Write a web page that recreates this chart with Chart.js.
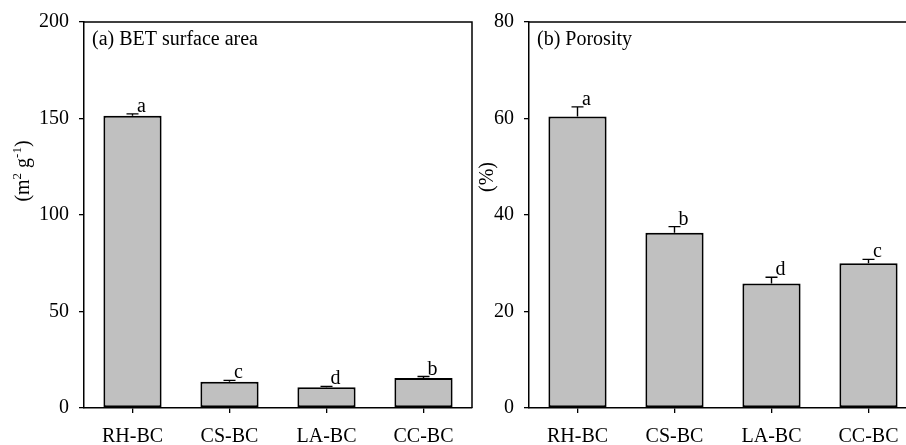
<!DOCTYPE html>
<html>
<head>
<meta charset="utf-8">
<script src="https://cdn.jsdelivr.net/npm/chart.js@4.4.1/dist/chart.umd.min.js"></script>
<style>
  html, body { margin: 0; padding: 0; background: #fff; overflow: hidden; width: 906px; height: 445px; }
  canvas { position: absolute; left: 0; top: 0; }
</style>
</head>
<body>
<canvas id="c1" width="1000" height="445"></canvas>
<canvas id="c2" width="1000" height="445"></canvas>
<script>
// ---- data ----
const categories = ['RH-BC', 'CS-BC', 'LA-BC', 'CC-BC'];
const betValues = [151.4, 13.6, 10.7, 15.6];
const betErrors = [1.0, 0.7, 0.5, 0.7];
const betLetters = ['a', 'c', 'd', 'b'];
const porosityValues = [60.4, 36.3, 25.8, 30.0];
const porosityErrors = [2.0, 1.3, 1.3, 0.8];
const porosityLetters = ['a', 'b', 'd', 'c'];
const betAxisMax = 200, betStep = 50;
const porosityAxisMax = 80, porosityStep = 20;
const betTitle = '(a) BET surface area';
const porosityTitle = '(b) Porosity';

// ---- styles ----
const FONT = "'Liberation Serif', 'Times New Roman', serif";
const BAR_FILL = '#c0c0c0';
const INK = '#000';

function panelPlugin(errors, letters, title, ylabelParts, labelOffset, labelCenterY) {
  return {
    id: 'panel',
    afterDatasetsDraw(chart) {
      const ctx = chart.ctx;
      const meta = chart.getDatasetMeta(0);
      const y = chart.scales.y;
      const vals = chart.data.datasets[0].data;
      ctx.save();
      ctx.strokeStyle = INK;
      ctx.lineWidth = 1.4;
      meta.data.forEach((bar, i) => {
        const x = bar.x;
        const y0 = y.getPixelForValue(vals[i]);
        const y1 = y.getPixelForValue(vals[i] + errors[i]);
        ctx.beginPath();
        ctx.moveTo(x, y0);
        ctx.lineTo(x, y1);
        ctx.moveTo(x - 6, y1);
        ctx.lineTo(x + 6, y1);
        ctx.stroke();
        ctx.fillStyle = INK;
        ctx.font = '20px ' + FONT;
        ctx.textAlign = 'center';
        ctx.textBaseline = 'alphabetic';
        ctx.fillText(letters[i], x + 9, y1 - 2);
      });
      ctx.restore();
    },
    afterDraw(chart) {
      const ctx = chart.ctx;
      const a = chart.chartArea;
      ctx.save();
      ctx.strokeStyle = INK;
      ctx.lineWidth = 1.5;
      ctx.beginPath();
      ctx.moveTo(a.left, a.top);
      ctx.lineTo(a.right, a.top);
      ctx.lineTo(a.right, a.bottom);
      ctx.stroke();
      // panel title
      ctx.fillStyle = INK;
      ctx.font = '20px ' + FONT;
      ctx.textAlign = 'left';
      ctx.textBaseline = 'alphabetic';
      ctx.fillText(title, a.left + 8, a.top + 23);
      // rotated y-axis label (with superscripts)
      ctx.translate(a.left - labelOffset, labelCenterY);
      ctx.rotate(-Math.PI / 2);
      let total = 0;
      ylabelParts.forEach(p => {
        ctx.font = (p.sup ? '13px ' : '20px ') + FONT;
        total += ctx.measureText(p.t).width;
      });
      let px = -total / 2;
      ylabelParts.forEach(p => {
        ctx.font = (p.sup ? '13px ' : '20px ') + FONT;
        ctx.fillText(p.t, px, p.sup ? -8 : 0);
        px += ctx.measureText(p.t).width;
      });
      ctx.restore();
    }
  };
}

function makeChart(id, values, errors, letters, max, step, title, ylabelParts, labelOffset, labelCenterY, padLeft, padRight) {
  return new Chart(document.getElementById(id), {
    type: 'bar',
    data: {
      labels: categories,
      datasets: [{
        data: values,
        backgroundColor: BAR_FILL,
        borderColor: INK,
        borderWidth: 2,
        borderSkipped: false,
        barPercentage: 0.6,
        categoryPercentage: 1.0
      }]
    },
    options: {
      responsive: false,
      animation: false,
      devicePixelRatio: 1,
      layout: { padding: { left: padLeft, right: padRight, top: 20, bottom: 0 } },
      plugins: { legend: { display: false }, tooltip: { enabled: false } },
      scales: {
        x: {
          type: 'category',
          offset: true,
          grid: { display: true, drawOnChartArea: false, drawTicks: true, tickLength: 5, offset: false, color: INK, lineWidth: 1.3 },
          border: { display: true, color: INK, width: 1.5 },
          ticks: { color: INK, font: { family: FONT, size: 20 }, padding: 12, maxRotation: 0 },
          afterFit(s) { s.height = 37; }
        },
        y: {
          min: 0, max: max,
          grid: { display: true, drawOnChartArea: false, drawTicks: true, tickLength: 5, color: INK, lineWidth: 1.3 },
          border: { display: true, color: INK, width: 1.5 },
          ticks: { stepSize: step, color: INK, font: { family: FONT, size: 20 }, padding: 10 },
          afterFit(s) { s.width = 84; }
        }
      }
    },
    plugins: [panelPlugin(errors, letters, title, ylabelParts, labelOffset, labelCenterY)]
  });
}

makeChart('c1', betValues, betErrors, betLetters, betAxisMax, betStep, betTitle,
  [{t: '(m'}, {t: '2', sup: true}, {t: ' g'}, {t: '-1', sup: true}, {t: ')'}], 55, 171, 0, 1000 - 472);
makeChart('c2', porosityValues, porosityErrors, porosityLetters, porosityAxisMax, porosityStep, porosityTitle,
  [{t: '(%)'}], 36, 177, 445, 1000 - 917);
</script>
</body>
</html>
